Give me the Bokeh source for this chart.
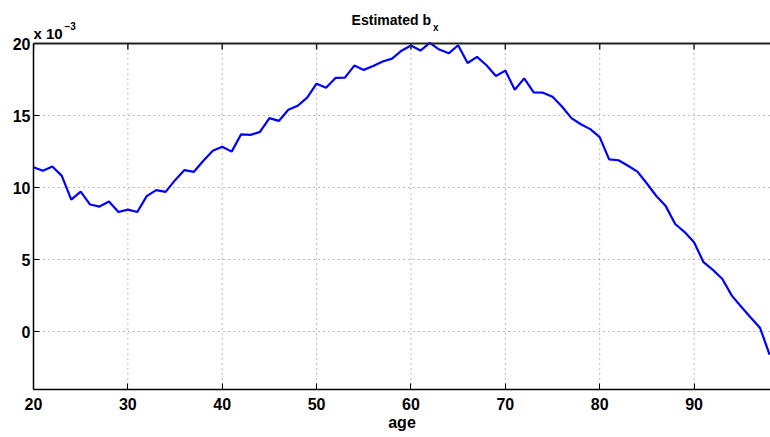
from bokeh.plotting import figure
from bokeh.models import FixedTicker, Label, Range1d, Span
from bokeh.embed import file_html
from bokeh.resources import INLINE

# Data (values are in units of 1e-3)
ages = list(range(20, 99))
bx_e3 = [
    11.41, 11.17, 11.47, 10.82, 9.17, 9.73, 8.83, 8.69, 9.04, 8.31,
    8.48, 8.31, 9.41, 9.83, 9.71, 10.52, 11.22, 11.10, 11.87, 12.56,
    12.84, 12.50, 13.70, 13.66, 13.87, 14.82, 14.63, 15.40, 15.68, 16.24,
    17.21, 16.93, 17.61, 17.63, 18.47, 18.17, 18.44, 18.75, 18.95, 19.50,
    19.86, 19.51, 20.05, 19.58, 19.32, 19.88, 18.65, 19.07, 18.49, 17.75,
    18.12, 16.79, 17.58, 16.61, 16.59, 16.31, 15.63, 14.82, 14.40, 14.06,
    13.51, 11.96, 11.90, 11.52, 11.11, 10.29, 9.42, 8.72, 7.48, 6.92,
    6.22, 4.83, 4.30, 3.67, 2.51, 1.74, 1.00, 0.26, -1.58,
]
x_ticks = [20, 30, 40, 50, 60, 70, 80, 90]
y_ticks = [0, 5, 10, 15, 20]
x_lim = (20, 98.1)
y_lim = (-4, 20)
title_main = "Estimated b"
title_sub = "x"
x_label = "age"
scale_text = "x 10"
scale_exp = "\u22123"

FONT = "Liberation Sans"
W, H = 770, 437
LEFT, BOTTOM, TOP_PAD = 33, 48, 43   # pixel layout of the axes box
TICK_PX = 6

frame_h = H - BOTTOM
px_per_y = (frame_h - TOP_PAD) / (y_lim[1] - y_lim[0])
y_top = y_lim[0] + frame_h / px_per_y   # extend range so text above the box is inside the frame

p = figure(width=W, height=H, output_backend="svg", toolbar_location=None,
           x_range=Range1d(*x_lim), y_range=Range1d(y_lim[0], y_top),
           min_border_left=LEFT, min_border_right=0, min_border_top=0,
           min_border_bottom=BOTTOM, background_fill_color="white",
           border_fill_color="white")
p.outline_line_color = None

def py2y(py):
    """canvas pixel row -> data y"""
    return y_lim[1] + (TOP_PAD - py) / px_per_y

# dotted grid
p.ygrid.ticker = FixedTicker(ticks=y_ticks)
p.ygrid.grid_line_color = "#555555"
p.ygrid.grid_line_dash = "1 4"
p.ygrid.grid_line_alpha = 0.8
p.xgrid.grid_line_color = None
p.segment(x0=x_ticks, y0=[y_lim[0]] * len(x_ticks), x1=x_ticks, y1=[y_lim[1]] * len(x_ticks),
          line_color="#555555", line_alpha=0.8, line_width=1, line_dash="1 4")

# data line
p.line(ages, bx_e3, line_color="#0000ff", line_width=2.2)

# axes
for ax in (p.xaxis[0], p.yaxis[0]):
    ax.major_label_text_font = FONT
    ax.major_label_text_font_style = "bold"
    ax.major_label_text_font_size = "16px"
    ax.major_label_text_color = "black"
    ax.axis_line_color = "black"
    ax.axis_line_width = 1.5
    ax.major_tick_in = TICK_PX
    ax.major_tick_out = 0
    ax.major_tick_line_color = "black"
    ax.minor_tick_line_color = None

p.xaxis[0].ticker = FixedTicker(ticks=x_ticks)
p.yaxis[0].ticker = FixedTicker(ticks=y_ticks)
p.yaxis[0].bounds = y_lim
p.xaxis[0].major_label_standoff = 8
p.yaxis[0].major_label_standoff = 3
p.xaxis[0].axis_label = x_label
p.xaxis[0].axis_label_text_font = FONT
p.xaxis[0].axis_label_text_font_style = "bold"
p.xaxis[0].axis_label_text_font_size = "16px"
p.xaxis[0].axis_label_text_color = "black"
p.xaxis[0].axis_label_standoff = 1

# top edge of the box with inward ticks
p.add_layout(Span(location=y_lim[1], dimension="width", line_color="#222222", line_width=2))
tick_len = TICK_PX / px_per_y
p.segment(x0=x_ticks, y0=[y_lim[1]] * len(x_ticks), x1=x_ticks,
          y1=[y_lim[1] - tick_len] * len(x_ticks), line_color="#222222", line_width=1.5)

# title with subscript
p.add_layout(Label(x=62.12, y=py2y(19.5), text=title_main, text_align="right",
                   text_baseline="alphabetic", text_font=FONT,
                   text_font_style="bold", text_font_size="14px", text_color="black"))
p.add_layout(Label(x=62.12, y=py2y(27), x_offset=2, text=title_sub, text_align="left",
                   text_baseline="alphabetic", text_font=FONT,
                   text_font_style="bold", text_font_size="10px", text_color="black"))
# scale factor x 10^-3
p.add_layout(Label(x=x_lim[0], y=py2y(33), text=scale_text, text_align="left",
                   text_baseline="alphabetic", text_font=FONT, text_font_style="bold",
                   text_font_size="15px", text_color="black"))
p.add_layout(Label(x=x_lim[0], y=py2y(25), x_offset=31, text=scale_exp, text_align="left",
                   text_baseline="alphabetic", text_font=FONT, text_font_style="bold",
                   text_font_size="10px", text_color="black"))

open("out.html", "w").write(file_html(p, INLINE))
